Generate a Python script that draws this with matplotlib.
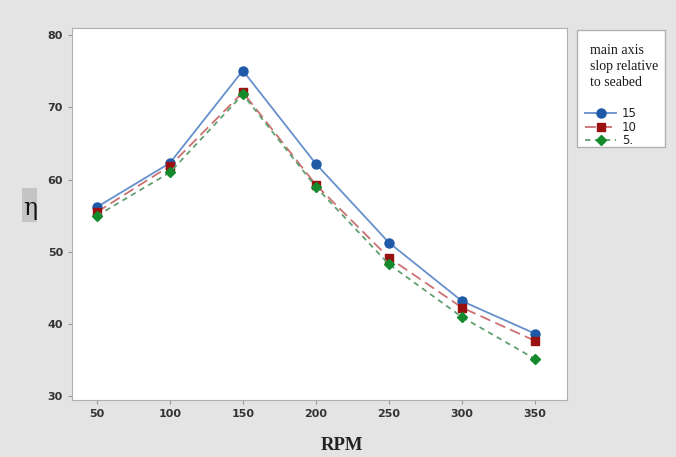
import matplotlib.pyplot as plt
from matplotlib.patches import Rectangle

rpm = [50, 100, 150, 200, 250, 300, 350]
eta_15 = [56.2, 62.3, 75.1, 62.2, 51.3, 43.2, 38.7]
eta_10 = [55.5, 61.9, 72.1, 59.3, 49.2, 42.3, 37.7]
eta_5 = [55.0, 61.0, 71.8, 59.0, 48.3, 41.0, 35.2]
legend_labels = ['15', '10', '5.']
y_ticks = [30, 40, 50, 60, 70, 80]

W, H = 676, 457
fig = plt.figure(figsize=(W / 100, H / 100), dpi=100, facecolor='#e4e4e4')
ax = fig.add_axes([72 / W, 57 / H, 495 / W, 372 / H])
ax.set_facecolor('white')

ax.plot(rpm, eta_15, color='#6590cc', lw=1.3, ls='-', marker='o',
        ms=6.5, mfc='#1f5aa8', mec='#1f5aa8', label=legend_labels[0])
ax.plot(rpm, eta_10, color='#cc7070', lw=1.3, ls=(0, (6, 3)), marker='s',
        ms=5.5, mfc='#9a1010', mec='#9a1010', label=legend_labels[1])
ax.plot(rpm, eta_5, color='#60a070', lw=1.3, ls=(0, (3, 2.5)), marker='D',
        ms=5, mfc='#138a2c', mec='#138a2c', label=legend_labels[2])

ax.set_xlim(33, 372)
ax.set_ylim(29.5, 81)
ax.set_xticks(rpm)
ax.set_yticks(y_ticks)
ax.tick_params(axis='both', colors='#9a9a9a', labelcolor='#333333', labelsize=8, length=3)
for lbl in ax.get_xticklabels() + ax.get_yticklabels():
    lbl.set_fontweight('bold')
for side in ax.spines:
    ax.spines[side].set_color('#b0b0b0')

fig.text(342 / W, 1 - 445 / H, 'RPM', family='Liberation Serif', fontweight='bold',
         fontsize=13.5, ha='center', va='center', color='#222222')

# highlighted eta label
fig.add_artist(Rectangle((22 / W, 1 - 222 / H), 15 / W, 34 / H,
                         transform=fig.transFigure, fc='#c4c4c4', ec='none'))
fig.text(30 / W, 1 - 208 / H, 'η', family='DejaVu Serif', fontsize=17, ha='center',
         va='center', color='#111111')

# legend box
fig.add_artist(Rectangle((577 / W, 1 - 147 / H), 88 / W, 117 / H,
                         transform=fig.transFigure, fc='white', ec='#b0b0b0', lw=1))
fig.text(590 / W, 1 - 44 / H, 'main axis\nslop relative\nto seabed',
         family='Liberation Serif', fontsize=10, va='top', ha='left',
         color='#1a1a1a', linespacing=1.3)
leg = fig.legend(loc='upper left', bbox_to_anchor=(577 / W, 1 - 99 / H),
                 frameon=False, fontsize=8.5, handlelength=2.6,
                 labelspacing=0.05, handletextpad=0.5, borderpad=0.2)
for t in leg.get_texts():
    t.set_color('#222222')

fig.savefig('out.png', dpi=100, facecolor=fig.get_facecolor())
